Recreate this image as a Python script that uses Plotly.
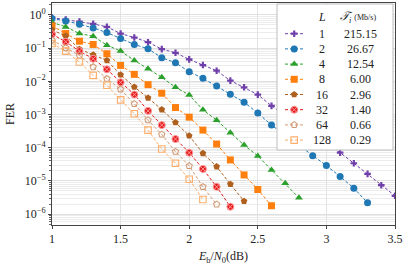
import plotly.graph_objects as go

# ---------------- data ----------------
ebn0 = [1.0, 1.1, 1.2, 1.3, 1.4, 1.5, 1.6, 1.7, 1.8, 1.9, 2.0, 2.1, 2.2,
        2.3, 2.4, 2.5, 2.6, 2.7, 2.8, 2.9, 3.0, 3.1, 3.2, 3.3, 3.4, 3.5]

L_values = [1, 2, 4, 8, 16, 32, 64, 128]
throughput = ["215.15", "26.67", "12.54", "6.00", "2.96", "1.40", "0.66", "0.29"]

fer_L1 = [0.832, 0.724, 0.631, 0.537, 0.437, 0.275, 0.209, 0.151, 0.0933, 0.0724,
          0.0457, 0.0309, 0.0209, 0.0105, 6.61e-3, 3.98e-3, 1.82e-3, 9.55e-4,
          5.01e-4, 2.63e-4, 1.35e-4, 7.08e-5, 3.39e-5, 1.62e-5, 7.41e-6, 3.55e-6]
fer_L2 = [0.776, 0.661, 0.525, 0.407, 0.295, 0.195, 0.129, 0.0955, 0.0513, 0.0363,
          0.0195, 0.0123, 7.24e-3, 4.07e-3, 2.34e-3, 1.10e-3, 4.79e-4, 2.40e-4,
          1.17e-4, 5.75e-5, 2.88e-5, 1.35e-5, 6.03e-6, 2.19e-6]
fer_L4 = [0.603, 0.437, 0.275, 0.229, 0.123, 0.0813, 0.0427, 0.0240, 0.0132,
          6.61e-3, 3.89e-3, 1.38e-3, 6.76e-4, 2.82e-4, 1.20e-4, 5.62e-5, 2.14e-5,
          8.51e-6, 3.09e-6]
fer_L8 = [0.468, 0.275, 0.162, 0.129, 0.0676, 0.0302, 0.0162, 7.94e-3, 4.37e-3,
          1.62e-3, 8.32e-4, 3.39e-4, 1.29e-4, 4.27e-5, 1.51e-5, 5.50e-6, 1.78e-6]
fer_L16 = [0.355, 0.234, 0.0933, 0.0631, 0.0427, 0.0158, 6.76e-3, 3.16e-3, 1.41e-3,
           5.75e-4, 2.29e-4, 6.76e-5, 2.69e-5, 7.94e-6, 2.45e-6]
fer_L32 = [0.263, 0.155, 0.0813, 0.0479, 0.0229, 9.33e-3, 3.98e-3, 1.29e-3, 4.79e-4,
           1.82e-4, 7.08e-5, 2.29e-5, 6.61e-6, 1.66e-6]
fer_L64 = [0.174, 0.102, 0.0603, 0.0269, 0.0120, 5.75e-3, 2.09e-3, 6.76e-4, 2.51e-4,
           7.59e-5, 2.82e-5, 6.61e-6, 1.95e-6]
fer_L128 = [0.138, 0.0813, 0.0380, 0.0151, 7.59e-3, 2.75e-3, 1.05e-3, 3.39e-4,
            9.12e-5, 3.39e-5, 1.12e-5, 2.75e-6]

x_ticks = [1, 1.5, 2, 2.5, 3, 3.5]
x_tick_labels = ["1", "1.5", "2", "2.5", "3", "3.5"]
y_ticks = [1, 1e-1, 1e-2, 1e-3, 1e-4, 1e-5, 1e-6]
y_tick_labels = ["10<sup>0</sup>", "10<sup>−1</sup>", "10<sup>−2</sup>", "10<sup>−3</sup>",
                 "10<sup>−4</sup>", "10<sup>−5</sup>", "10<sup>−6</sup>"]

# ---------------- styles ----------------
series = [fer_L1, fer_L2, fer_L4, fer_L8, fer_L16, fer_L32, fer_L64, fer_L128]
colors = ["#7040aa", "#1f77b4", "#2ca02c", "#ff7f0e", "#b0601e", "#e41a1c",
          "#d29a73", "#fdae6b"]
symbols = ["cross", "circle", "triangle-up", "square", "pentagon", "circle-x",
           "pentagon-open", "square-open"]
sizes = [5.5, 7, 7, 7, 7, 7, 6.5, 6.5]
mline = [dict(width=0), dict(width=0), dict(width=0), dict(width=0), dict(width=0),
         dict(width=1, color="#ff9a9a"), dict(width=1.1), dict(width=1.1)]

FONT = "Liberation Serif"
W, H = 407, 265
L_M, R_M, T_M, B_M = 52, 12, 3, 40

fig = go.Figure()

for fer, c, s, sz, ml in zip(series, colors, symbols, sizes, mline):
    mlc = dict(ml)
    if "color" not in mlc:
        mlc["color"] = c
    fig.add_trace(go.Scatter(
        x=ebn0[:len(fer)], y=fer, mode="lines+markers",
        line=dict(color=c, width=1, dash="3px,2px"),
        marker=dict(symbol=s, size=sz, color=c, line=mlc),
        showlegend=False, xaxis="x", yaxis="y"))

# ---------------- manual legend (overlay axes in pixel units) ----------------
px_left, px_right = L_M, W - R_M
px_top, px_bot = T_M, H - B_M
bx0, bx1, by0, by1 = 277, 393, 4, 150
fig.add_trace(go.Scatter(
    x=[bx0, bx1, bx1, bx0, bx0], y=[by0, by0, by1, by1, by0],
    mode="lines", fill="toself", fillcolor="white",
    line=dict(color="#bdbdbd", width=1), hoverinfo="skip",
    showlegend=False, xaxis="x2", yaxis="y2"))

row0, dy = 33.7, 15.2
for i, (c, s, sz, ml) in enumerate(zip(colors, symbols, sizes, mline)):
    yy = row0 + dy * i
    mlc = dict(ml)
    if "color" not in mlc:
        mlc["color"] = c
    fig.add_trace(go.Scatter(
        x=[285, 303.5], y=[yy, yy], mode="lines",
        line=dict(color=c, width=1, dash="3px,2px"),
        showlegend=False, hoverinfo="skip", xaxis="x2", yaxis="y2"))
    fig.add_trace(go.Scatter(
        x=[294.2], y=[yy], mode="markers",
        marker=dict(symbol=s, size=sz, color=c, line=mlc),
        showlegend=False, hoverinfo="skip", xaxis="x2", yaxis="y2"))
    fig.add_annotation(x=322, y=yy, xref="x2", yref="y2", text=str(L_values[i]),
                       showarrow=False, font=dict(family=FONT, size=12, color="#222"),
                       xanchor="center", yanchor="middle")
    fig.add_annotation(x=360, y=yy, xref="x2", yref="y2", text=throughput[i],
                       showarrow=False, font=dict(family=FONT, size=12, color="#222"),
                       xanchor="center", yanchor="middle")

fig.add_annotation(x=322, y=17, xref="x2", yref="y2", text="<i>L</i>",
                   showarrow=False, font=dict(family=FONT, size=12, color="#222"),
                   xanchor="center", yanchor="middle")
fig.add_annotation(x=358, y=17, xref="x2", yref="y2",
                   text="<i>𝒯</i><sub><i>i</i></sub> <span style='font-size:8px'>(Mb/s)</span>",
                   showarrow=False, font=dict(family=FONT, size=12, color="#222"),
                   xanchor="center", yanchor="middle")

minor_y = [k * 10.0 ** e for e in range(-7, 1) for k in range(2, 10)]

fig.update_layout(
    width=W, height=H,
    margin=dict(l=L_M, r=R_M, t=T_M, b=B_M, autoexpand=False),
    paper_bgcolor="white", plot_bgcolor="white",
    font=dict(family=FONT, size=12, color="#222"),
    xaxis=dict(range=[1, 3.5], tickvals=x_ticks, ticktext=x_tick_labels,
               showgrid=True, gridcolor="#e3e3e3", gridwidth=1,
               ticks="outside", ticklen=3, tickcolor="#444",
               showline=True, linecolor="#444", linewidth=1, mirror=True,
               zeroline=False, automargin=False,
               title=dict(text="<i>E</i><sub>b</sub>/<i>N</i><sub>0</sub>(dB)",
                          font=dict(size=12), standoff=6)),
    yaxis=dict(type="log", range=[-6.33, 0.36], tickvals=y_ticks, ticktext=y_tick_labels,
               showgrid=True, gridcolor="#e0e0e0", gridwidth=1,
               ticks="outside", ticklen=3, tickcolor="#444",
               minor=dict(tickvals=minor_y, ticks="outside", ticklen=2, tickcolor="#666",
                          showgrid=True, gridcolor="#ececec", gridwidth=1),
               showline=True, linecolor="#444", linewidth=1, mirror=True,
               zeroline=False, automargin=False,
               title=dict(text="FER", font=dict(size=12), standoff=7)),
    xaxis2=dict(range=[px_left, px_right], overlaying="x", visible=False,
                anchor="y2", fixedrange=True),
    yaxis2=dict(range=[px_bot, px_top], overlaying="y", visible=False,
                anchor="x2", fixedrange=True),
)

fig.write_html("out.html", config={"displayModeBar": False, "staticPlot": True},
               post_script="document.body.style.margin='0';document.body.style.overflow='hidden';")
